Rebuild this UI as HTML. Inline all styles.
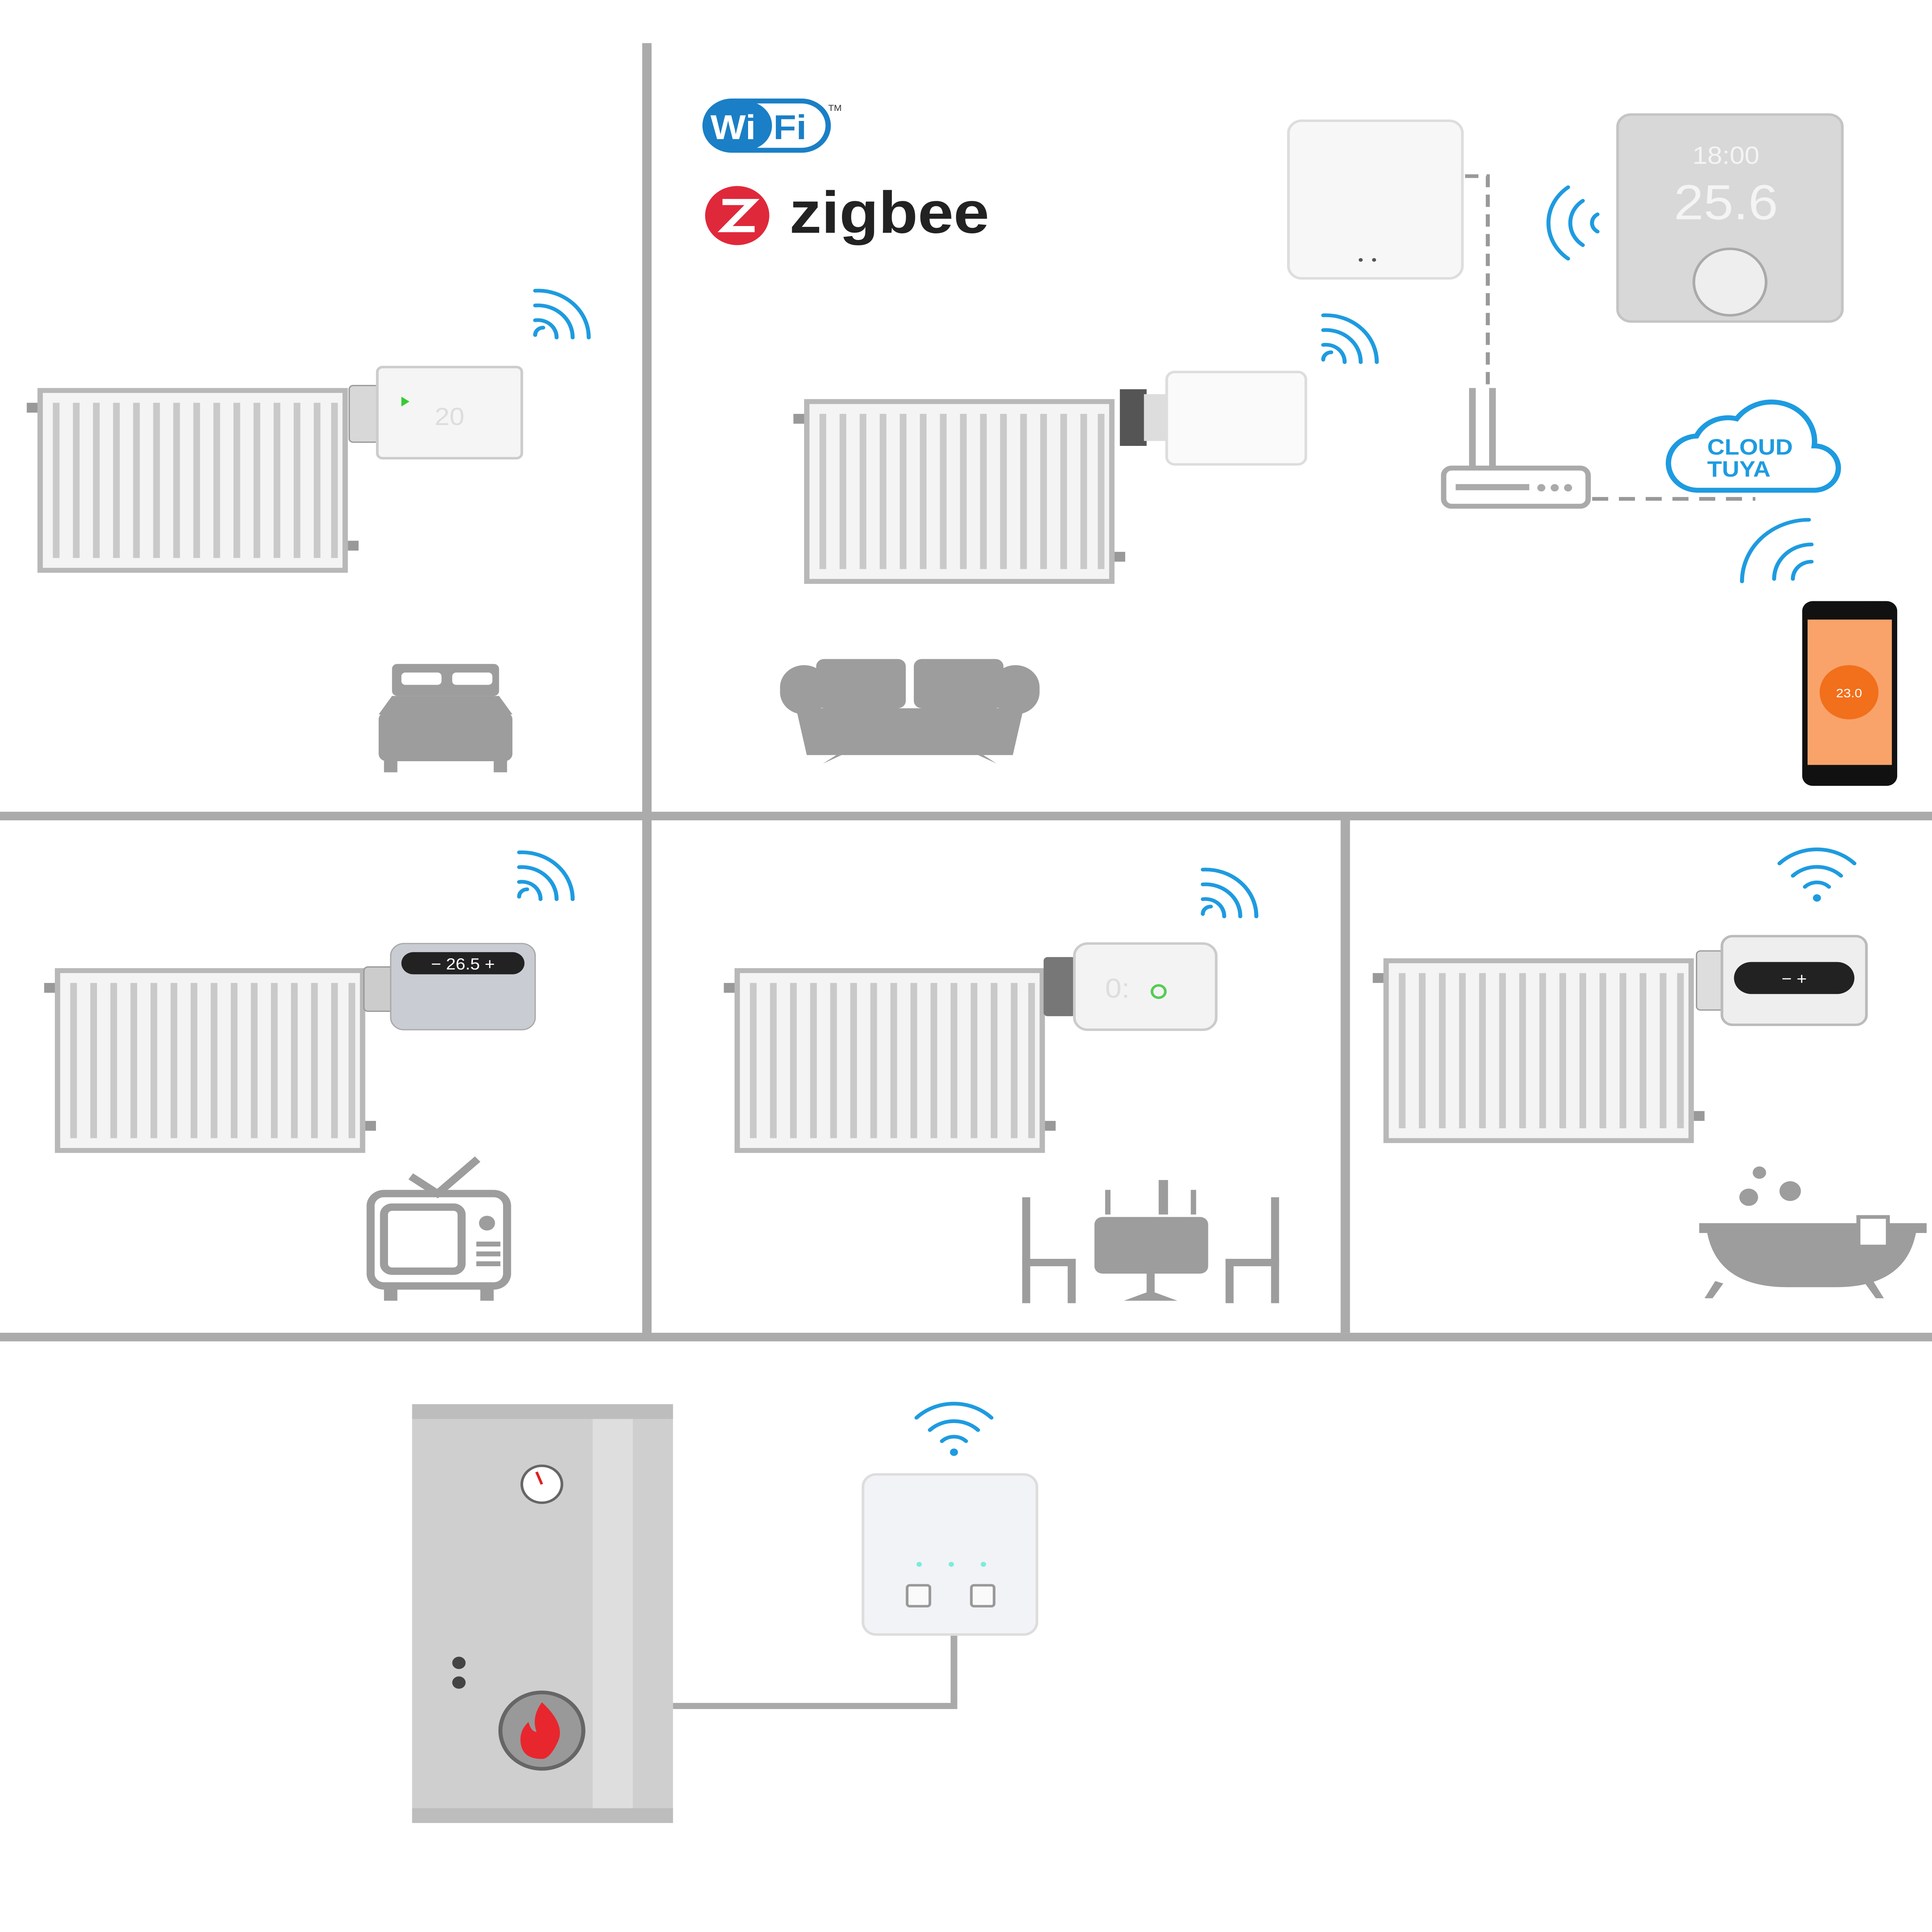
<!DOCTYPE html>
<html><head><meta charset="utf-8"><style>
html,body{margin:0;padding:0;background:#fff;width:100vw;height:100vh;overflow:hidden}
svg{display:block;position:absolute;left:0;top:0;width:100vw;height:100vh}
</style></head>
<body>
<svg xmlns="http://www.w3.org/2000/svg" viewBox="0 0 1444 1568.5" preserveAspectRatio="none" font-family="Liberation Sans, sans-serif">
<defs>
  <g id="rad">
    <rect x="0" y="0" width="228" height="146" fill="#f4f4f4" stroke="#b8b8b8" stroke-width="4"/>
    <g stroke="#c9c9c9" stroke-width="5">
      <line x1="12" y1="10" x2="12" y2="136"/><line x1="27" y1="10" x2="27" y2="136"/><line x1="42" y1="10" x2="42" y2="136"/>
      <line x1="57" y1="10" x2="57" y2="136"/><line x1="72" y1="10" x2="72" y2="136"/><line x1="87" y1="10" x2="87" y2="136"/>
      <line x1="102" y1="10" x2="102" y2="136"/><line x1="117" y1="10" x2="117" y2="136"/><line x1="132" y1="10" x2="132" y2="136"/>
      <line x1="147" y1="10" x2="147" y2="136"/><line x1="162" y1="10" x2="162" y2="136"/><line x1="177" y1="10" x2="177" y2="136"/>
      <line x1="192" y1="10" x2="192" y2="136"/><line x1="207" y1="10" x2="207" y2="136"/><line x1="220" y1="10" x2="220" y2="136"/>
    </g>
    <rect x="-10" y="10" width="8" height="8" fill="#999"/>
    <rect x="230" y="122" width="8" height="8" fill="#999"/>
  </g>
  <g id="wave" fill="none" stroke="#1e9be0" stroke-width="3" stroke-linecap="round">
    <path d="M0 40 a6 6 0 0 1 6 -6"/>
    <path d="M0 28 a14 14 0 0 1 16 14"/>
    <path d="M0 16 a26 26 0 0 1 28 26"/>
    <path d="M0 4 a38 38 0 0 1 40 38"/>
  </g>
  <g id="wifi" fill="none" stroke="#1e9be0" stroke-width="3" stroke-linecap="round">
    <path d="M-28 -14 a40 40 0 0 1 56 0"/>
    <path d="M-18 -4 a26 26 0 0 1 36 0"/>
    <path d="M-9 5 a13 13 0 0 1 18 0"/>
    <circle cx="0" cy="14" r="1.5" fill="#1e9be0"/>
  </g>
</defs>

<g fill="#ababab">
  <rect x="480" y="35" width="7" height="1048"/>
  <rect x="0" y="659" width="1444" height="7"/>
  <rect x="1002" y="662" width="7" height="420"/>
  <rect x="0" y="1082" width="1444" height="7"/>
</g>

<use href="#rad" x="30" y="317"/>
<use href="#rad" x="603" y="326"/>
<use href="#rad" x="43" y="788"/>
<use href="#rad" x="551" y="788"/>
<use href="#rad" x="1036" y="780"/>

<use href="#wave" x="400" y="232"/>
<use href="#wave" x="989" y="252"/>
<use href="#wave" x="388" y="688"/>
<use href="#wave" x="899" y="702"/>
<use href="#wifi" x="1358" y="715"/>
<use href="#wifi" x="713" y="1165"/>

<rect x="261" y="313" width="22" height="46" rx="3" fill="#d8d8d8" stroke="#999"/>
<rect x="282" y="298" width="108" height="74" rx="4" fill="#f5f5f5" stroke="#ccc" stroke-width="2"/>
<text x="336" y="345" font-size="20" fill="#ddd" text-anchor="middle">20</text>
<path d="M300 322 l6 4 l-6 4z" fill="#3c3"/>

<rect x="837" y="316" width="20" height="46" fill="#555"/>
<rect x="855" y="320" width="20" height="38" fill="#ddd"/>
<rect x="872" y="302" width="104" height="75" rx="6" fill="#fafafa" stroke="#ddd" stroke-width="2"/>

<rect x="272" y="785" width="24" height="36" rx="3" fill="#ccc" stroke="#999"/>
<rect x="292" y="766" width="108" height="70" rx="10" fill="#c9ccd2" stroke="#aaa"/>
<rect x="300" y="773" width="92" height="18" rx="9" fill="#222"/>
<text x="346" y="787" font-size="13" fill="#fff" text-anchor="middle">− 26.5 +</text>

<rect x="780" y="777" width="24" height="48" rx="3" fill="#777"/>
<rect x="803" y="766" width="106" height="70" rx="10" fill="#f3f3f3" stroke="#ccc" stroke-width="2"/>
<text x="826" y="810" font-size="22" fill="#ddd">0:</text>
<circle cx="866" cy="805" r="5" fill="none" stroke="#5c5" stroke-width="2"/>

<rect x="1268" y="772" width="22" height="48" rx="3" fill="#ddd" stroke="#999"/>
<rect x="1287" y="760" width="108" height="72" rx="8" fill="#eee" stroke="#bbb" stroke-width="2"/>
<rect x="1296" y="781" width="90" height="26" rx="13" fill="#222"/>
<text x="1341" y="799" font-size="13" fill="#fff" text-anchor="middle">−        +</text>

<rect x="527" y="82" width="92" height="40" rx="20" fill="#fff" stroke="#1a7fc6" stroke-width="4"/>
<rect x="527" y="82" width="50" height="40" rx="20" fill="#1a7fc6"/>
<text x="531" y="113" font-size="28" font-weight="bold" fill="#fff">Wi</text>
<text x="578" y="113" font-size="28" font-weight="bold" fill="#1a7fc6">Fi</text>
<text x="619" y="90" font-size="7" fill="#333">TM</text>
<circle cx="551" cy="175" r="24" fill="#e0283b"/>
<path d="M540 164 h22 l-20 22 h22" fill="none" stroke="#fff" stroke-width="5"/>
<text x="590" y="189" font-size="48" font-weight="bold" fill="#222">zigbee</text>

<rect x="963" y="98" width="130" height="128" rx="10" fill="#f7f7f7" stroke="#ddd" stroke-width="2"/>
<circle cx="1017" cy="211" r="1.5" fill="#555"/><circle cx="1027" cy="211" r="1.5" fill="#555"/>
<path d="M1095 143 H1112 V312" fill="none" stroke="#999" stroke-width="3" stroke-dasharray="10 6"/>

<g fill="none" stroke="#1e9be0" stroke-width="3" stroke-linecap="round">
  <path d="M1194 174 a8 8 0 0 0 0 14"/><path d="M1183 163 a22 22 0 0 0 0 36"/><path d="M1172 152 a36 36 0 0 0 0 58"/>
</g>
<rect x="1209" y="93" width="168" height="168" rx="10" fill="#d8d8d8" stroke="#c4c4c4" stroke-width="2"/>
<text x="1290" y="133" font-size="20" fill="#f4f4f4" text-anchor="middle">18:00</text>
<text x="1290" y="178" font-size="40" fill="#f4f4f4" text-anchor="middle">25.6</text>
<circle cx="1293" cy="229" r="27" fill="#eee" stroke="#aaa" stroke-width="2"/>

<rect x="1098" y="315" width="5" height="66" fill="#aaa"/><rect x="1113" y="315" width="5" height="66" fill="#aaa"/>
<rect x="1079" y="380" width="108" height="31" rx="6" fill="#fff" stroke="#aaa" stroke-width="4"/>
<rect x="1088" y="393" width="55" height="5" fill="#aaa"/>
<circle cx="1152" cy="396" r="3" fill="#aaa"/><circle cx="1162" cy="396" r="3" fill="#aaa"/><circle cx="1172" cy="396" r="3" fill="#aaa"/>
<line x1="1190" y1="405" x2="1312" y2="405" stroke="#999" stroke-width="3" stroke-dasharray="12 8"/>

<path d="M1270 398 a22 22 0 0 1 -2 -44 a26 26 0 0 1 30 -14 a32 32 0 0 1 58 22 a18 18 0 0 1 0 36 z" fill="#fff" stroke="#1e9be0" stroke-width="4"/>
<text x="1276" y="369" font-size="18" font-weight="bold" fill="#1e9be0">CLOUD</text>
<text x="1276" y="387" font-size="18" font-weight="bold" fill="#1e9be0">TUYA</text>

<g fill="none" stroke="#1e9be0" stroke-width="3" stroke-linecap="round">
  <path d="M1340 470 a14 14 0 0 1 14 -14"/><path d="M1326 470 a28 28 0 0 1 28 -28"/><path d="M1302 472 a50 50 0 0 1 50 -50"/>
</g>
<rect x="1347" y="488" width="71" height="150" rx="8" fill="#111"/>
<rect x="1351" y="503" width="63" height="118" fill="#f9a36a"/>
<circle cx="1382" cy="562" r="22" fill="#f26f1b"/>
<text x="1382" y="566" font-size="10" fill="#fff" text-anchor="middle">23.0</text>

<g fill="#9d9d9d">
  <rect x="293" y="539" width="80" height="26" rx="4"/>
  <rect x="283" y="578" width="100" height="40" rx="6"/>
  <path d="M293 565 h80 l10 15 h-100z"/>
  <rect x="287" y="616" width="10" height="11"/><rect x="369" y="616" width="10" height="11"/>
</g>
<g fill="#fff"><rect x="300" y="546" width="30" height="10" rx="3"/><rect x="338" y="546" width="30" height="10" rx="3"/></g>

<g fill="#9d9d9d">
  <rect x="610" y="535" width="67" height="40" rx="6"/><rect x="683" y="535" width="67" height="40" rx="6"/>
  <rect x="583" y="540" width="36" height="40" rx="18"/><rect x="741" y="540" width="36" height="40" rx="18"/>
  <path d="M595 575 h170 l-8 38 h-154z"/>
  <path d="M615 620 l10 -7 h4z M745 620 l-10 -7 h-4z"/>
</g>

<g fill="none" stroke="#9d9d9d" stroke-width="6">
  <rect x="277" y="969" width="102" height="75" rx="10"/>
  <rect x="287" y="980" width="58" height="52" rx="6"/>
  <path d="M307 955 l20 14 l30 -28"/>
</g>
<g fill="#9d9d9d"><circle cx="364" cy="993" r="6"/><rect x="356" y="1008" width="18" height="4"/><rect x="356" y="1016" width="18" height="4"/><rect x="356" y="1024" width="18" height="4"/>
<rect x="287" y="1044" width="10" height="12"/><rect x="359" y="1044" width="10" height="12"/></g>

<g fill="#9d9d9d">
  <rect x="764" y="972" width="6" height="86"/><rect x="764" y="1022" width="40" height="6"/><rect x="798" y="1022" width="6" height="36"/>
  <rect x="950" y="972" width="6" height="86"/><rect x="916" y="1022" width="40" height="6"/><rect x="916" y="1022" width="6" height="36"/>
  <rect x="818" y="988" width="85" height="46" rx="6"/>
  <rect x="857" y="1030" width="6" height="20"/><path d="M840 1056 h40 l-20 -8z"/>
  <rect x="866" y="958" width="7" height="28"/>
  <rect x="826" y="966" width="4" height="20"/><rect x="890" y="966" width="4" height="20"/>
</g>

<g fill="#9d9d9d">
  <path d="M1270 993 h170 v8 h-8 q-8 44 -60 44 h-36 q-52 0 -60 -44 h-6z"/>
  <path d="M1282 1040 l-8 14 h6 l8 -12z M1400 1040 l8 14 h-6 l-8 -12z"/>
  <circle cx="1315" cy="952" r="5"/><circle cx="1307" cy="972" r="7"/><circle cx="1338" cy="967" r="8"/>
</g>
<rect x="1389" y="988" width="22" height="24" fill="#fff" stroke="#9d9d9d" stroke-width="3"/>

<rect x="308" y="1140" width="195" height="340" fill="#cfcfcf"/>
<rect x="308" y="1140" width="195" height="12" fill="#bdbdbd"/>
<rect x="308" y="1468" width="195" height="12" fill="#bdbdbd"/>
<rect x="443" y="1152" width="30" height="316" fill="#dedede"/>
<circle cx="405" cy="1205" r="15" fill="#fff" stroke="#666" stroke-width="2"/>
<line x1="405" y1="1205" x2="401" y2="1195" stroke="#e02020" stroke-width="2"/>
<circle cx="343" cy="1350" r="5" fill="#444"/><circle cx="343" cy="1366" r="5" fill="#444"/>
<circle cx="405" cy="1405" r="31" fill="#999" stroke="#666" stroke-width="3"/>
<path d="M405 1382 q18 18 12 32 q-6 14 -12 14 q-16 0 -16 -16 q0 -8 6 -14 q2 8 6 8 q-4 -12 4 -24z" fill="#e8262e"/>

<path d="M713 1325 V1385 H503" fill="none" stroke="#aaa" stroke-width="5"/>
<rect x="645" y="1197" width="130" height="130" rx="10" fill="#f2f3f6" stroke="#ddd" stroke-width="2"/>
<rect x="678" y="1287" width="17" height="17" rx="2" fill="#fafafa" stroke="#999" stroke-width="2"/>
<rect x="726" y="1287" width="17" height="17" rx="2" fill="#fafafa" stroke="#999" stroke-width="2"/>
<circle cx="687" cy="1270" r="2" fill="#7ed"/><circle cx="711" cy="1270" r="2" fill="#7ed"/><circle cx="735" cy="1270" r="2" fill="#7ed"/>
</svg>
</body></html>
